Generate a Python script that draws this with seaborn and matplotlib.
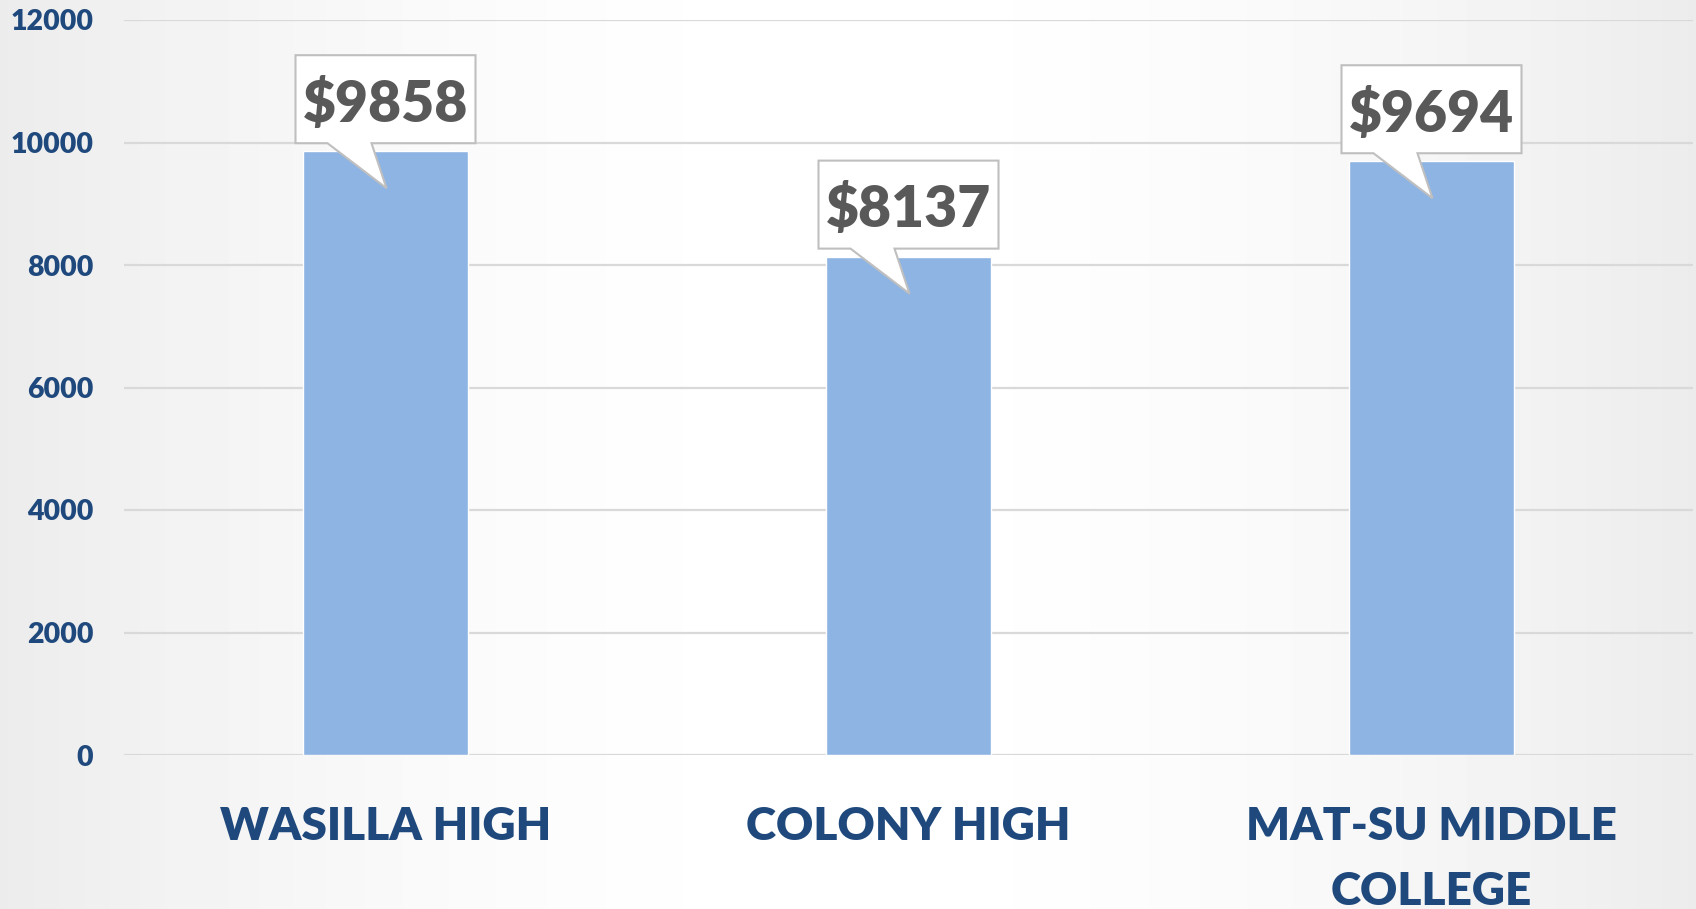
import numpy as np
import pandas as pd
import matplotlib
matplotlib.use("Agg")
import matplotlib.pyplot as plt
import matplotlib.transforms as mtrans
from matplotlib.patches import Polygon
import seaborn as sns

# ---- data ----
schools = ["WASILLA HIGH", "COLONY HIGH", "MAT-SU MIDDLE\nCOLLEGE"]
costs = [9858, 8137, 9694]
labels = ["$9858", "$8137", "$9694"]
yticks = [0, 2000, 4000, 6000, 8000, 10000, 12000]

df = pd.DataFrame({"school": schools, "cost": costs})

sns.set_theme(style="white")
plt.rcParams["font.family"] = ["Lato", "DejaVu Sans"]

DPI = 100
fig = plt.figure(figsize=(16.96, 9.09), dpi=DPI)

# background gradient (light gray edges, white centre)
bg = fig.add_axes([0, 0, 1, 1], zorder=-10)
xs = np.linspace(-1, 1, 400)
grad = 1 - 0.075 * np.abs(xs) ** 1.8
img = np.tile(grad, (50, 1))
bg.imshow(img, aspect="auto", cmap="gray", vmin=0, vmax=1, extent=[0, 1, 0, 1])
bg.axis("off")

ax = fig.add_axes([124 / 1696, 154 / 909, 1569 / 1696, 735 / 909])
ax.patch.set_alpha(0)

sns.barplot(data=df, x="school", y="cost", color="#8EB4E3", saturation=1,
            width=0.314, ax=ax, zorder=2)

ax.set_ylim(0, 12000)
ax.set_xlim(-0.5, 2.5)
ax.set_yticks(yticks)
ax.yaxis.grid(True, color="#D9D9D9", linewidth=1.6, zorder=0)
ax.set_axisbelow(True)
for s in ax.spines.values():
    s.set_visible(False)
ax.set_xlabel("")
ax.set_ylabel("")
ax.tick_params(axis="y", length=0, pad=22, labelsize=20.5, labelcolor="#1F497D")
ax.tick_params(axis="x", length=0, pad=37, labelsize=33, labelcolor="#1F497D")
for t in ax.get_yticklabels():
    t.set_fontweight("heavy")
for t in ax.get_xticklabels():
    t.set_fontweight("heavy")
    t.set_linespacing(1.68)

# callouts (pixel offsets relative to bar top centre)
box_w, box_h, gap = 180, 88, 8
for i, (v, lab) in enumerate(zip(costs, labels)):
    tr = mtrans.Affine2D() + mtrans.ScaledTranslation(i, v, ax.transData)
    left, right = -box_w / 2, box_w / 2
    bottom, top = gap, gap + box_h
    verts = [(left, bottom), (-58, bottom), (1, -37), (-14, bottom),
             (right, bottom), (right, top), (left, top)]
    poly = Polygon(verts, closed=True, facecolor="white", edgecolor="#BFBFBF",
                   linewidth=1.5, transform=tr, zorder=5, clip_on=False)
    ax.add_patch(poly)
    ax.text(0, gap + box_h / 2 - 5, lab, transform=tr, ha="center", va="center",
            fontsize=41, fontweight="heavy", color="#595959", zorder=6)

fig.savefig("out.png", dpi=DPI)
